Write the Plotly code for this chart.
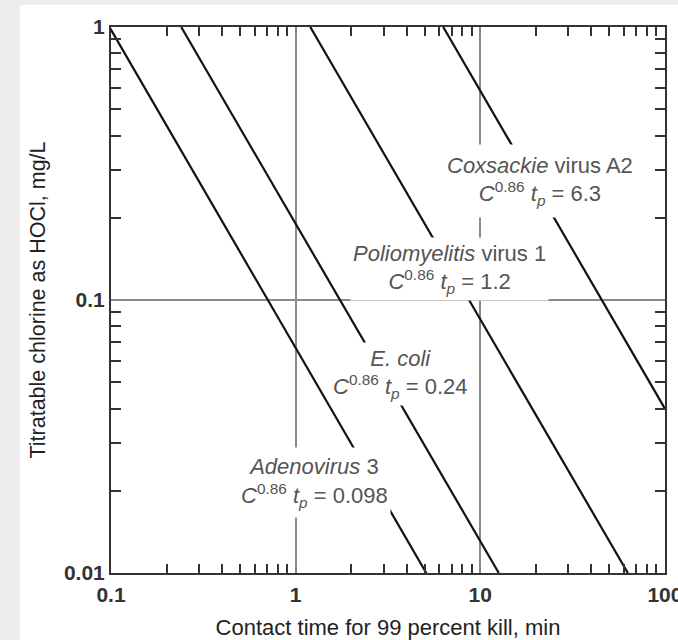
import plotly.graph_objects as go

# Data (contact time, min ; titratable chlorine, mg/L)
organisms = ["Adenovirus 3", "E. coli", "Poliomyelitis virus 1", "Coxsackie virus A2"]
k_values = ["0.098", "0.24", "1.2", "6.3"]
adeno_t = [0.098, 5.1]
adeno_c = [1.0, 0.01]
ecoli_t = [0.24, 12.6]
ecoli_c = [1.0, 0.01]
polio_t = [1.2, 63.0]
polio_c = [1.0, 0.01]
coxs_t = [6.3, 100.0]
coxs_c = [1.0, 0.04]

x_ticks = [0.1, 1, 10, 100]
x_ticktext = ["0.1", "1", "10", "100"]
y_ticks = [0.01, 0.1, 1]
y_ticktext = ["0.01", "0.1", "1"]

W, H = 678, 640
ML, MR, MT, MB = 111, 13, 27, 67
FONT = "Liberation Sans, Arial, Helvetica, sans-serif"

fig = go.Figure()
for t, c in [(adeno_t, adeno_c), (ecoli_t, ecoli_c), (polio_t, polio_c), (coxs_t, coxs_c)]:
    fig.add_trace(go.Scatter(x=t, y=c, mode="lines",
                             line=dict(color="#111111", width=2.2),
                             showlegend=False, hoverinfo="skip"))

# label placement (log10 data coordinates) and white box heights – layout only
label_pos = [(0.104, -1.670), (0.566, -1.271), (0.835, -0.885), (1.323, -0.564)]
label_box_h = [65, 58, 58, 68]
first_lines = ["<i>Adenovirus</i> 3", "<i>E. coli</i>",
               "<i>Poliomyelitis</i> virus 1", "<i>Coxsackie</i> virus A2"]
for (lx, ly), bh, first, k in zip(label_pos, label_box_h, first_lines, k_values):
    fig.add_annotation(
        x=lx, y=ly, xref="x", yref="y", showarrow=False,
        text=first + "<br><i>C</i><sup>0.86</sup> <i>t<sub>p</sub></i> = " + k,
        font=dict(family=FONT, size=22, color="#555555"),
        bgcolor="white", borderpad=2, height=bh, valign="middle", align="center")

minor_x = [d * 10 ** e for e in range(-1, 2) for d in range(2, 10)]
minor_y = [d * 10 ** e for e in range(-2, 0) for d in range(2, 10)]

axis_common = dict(
    type="log", showline=True, linewidth=2, linecolor="#333333", mirror="allticks",
    ticks="", showgrid=True, gridcolor="#8a8a8a", gridwidth=1.5, automargin=False,
    tickfont=dict(family=FONT, size=21, color="#333333", weight="bold"),
)

fig.update_xaxes(
    **axis_common, range=[-1, 2.0005], tickvals=x_ticks, ticktext=x_ticktext,
    ticklabelstandoff=2, ticklabeloverflow="allow",
    minor=dict(tickvals=minor_x, ticks="inside", ticklen=9, tickwidth=1.5,
               tickcolor="#333333", showgrid=False),
    title=dict(text="Contact time for 99 percent kill, min", standoff=15,
               font=dict(family=FONT, size=22, color="#222222")),
)
fig.update_yaxes(
    **axis_common, range=[-2, 0], tickvals=y_ticks, ticktext=y_ticktext,
    minor=dict(tickvals=minor_y, ticks="inside", ticklen=10, tickwidth=1.5,
               tickcolor="#333333", showgrid=False),
    title=dict(text="Titratable chlorine as HOCl, mg/L", standoff=12,
               font=dict(family=FONT, size=21.5, color="#222222")),
)

pw = W - ML - MR
ph = H - MT - MB
# white page area on a light grey surround
fig.add_shape(type="rect", xref="paper", yref="paper", layer="below",
              x0=(20 - ML) / pw, x1=(W - ML) / pw + 0.01,
              y0=-(H - MT - ph) / ph - 0.01, y1=1 + (MT - 5) / ph,
              fillcolor="white", line=dict(width=0))

fig.update_layout(
    width=W, height=H, margin=dict(l=ML, r=MR, t=MT, b=MB),
    paper_bgcolor="#ececec", plot_bgcolor="white",
    font=dict(family=FONT),
)

fig.write_html("out.html", config={"displayModeBar": False},
               post_script="document.body.style.margin='0';document.body.style.overflow='hidden';")
